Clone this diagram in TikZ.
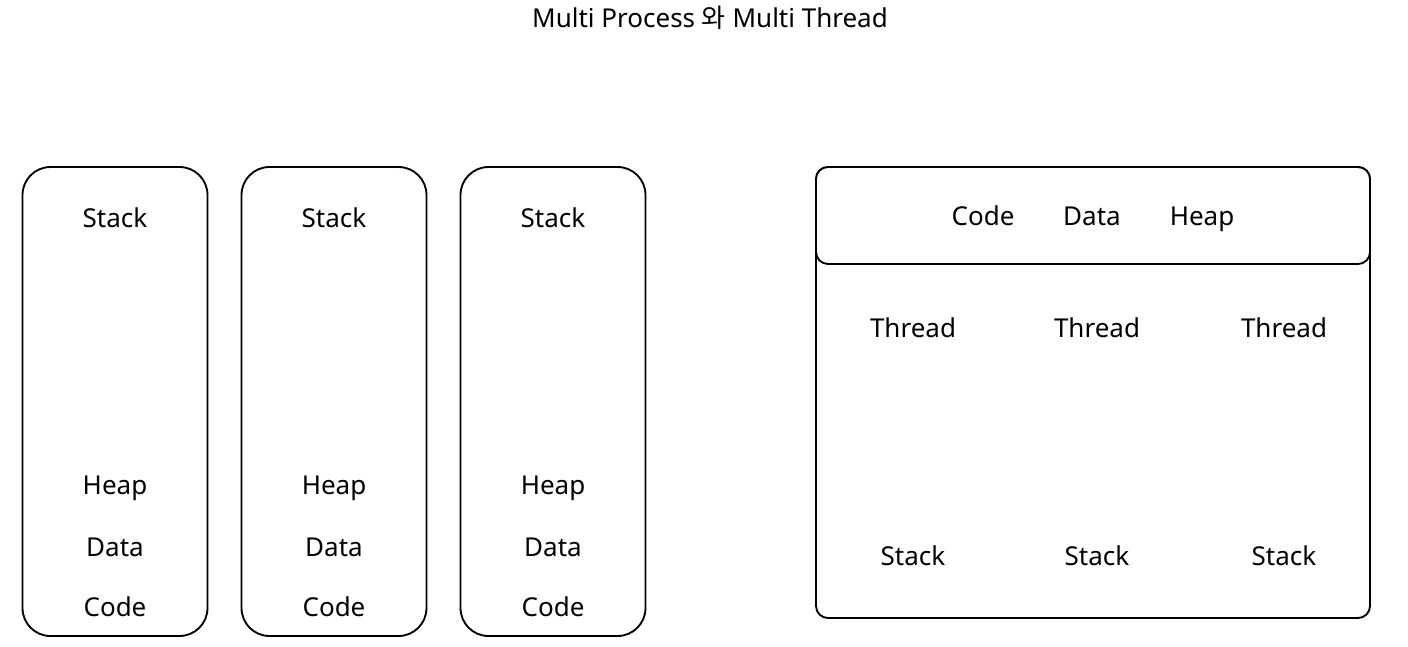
\documentclass[tikz,border=0pt]{standalone}
\usepackage{fontspec}
\setmainfont{Noto Sans}
\newfontfamily\krfont{Noto Sans CJK KR}
\begin{document}
\begin{tikzpicture}[x=0.75pt,y=-0.75pt,
  lbl/.style={inner sep=0pt, anchor=base, font=\fontsize{19.5}{23}\selectfont},
  procbox/.style={draw, line width=1.4pt, rounded corners=21pt},
  sharedbox/.style={draw, line width=1.4pt, rounded corners=9pt}]
\useasboundingbox (0,0) rectangle (1408,646);

% title
\node[lbl] (title) at (710,27) {Multi Process {\krfont 와} Multi Thread};

% three separate processes
\foreach \i/\cx in {1/115, 2/334, 3/553} {
  \draw[procbox] (\cx-92.5,167) rectangle (\cx+92.5,636);
  \node[lbl] (stack\i) at (\cx,227) {Stack};
  \node[lbl] (heap\i)  at (\cx,494) {Heap};
  \node[lbl] (data\i)  at (\cx,556) {Data};
  \node[lbl] (code\i)  at (\cx,616) {Code};
}

% one process with several threads
\draw[sharedbox] (816,167) rectangle (1370,618);
\draw[sharedbox, fill=white] (816,167) rectangle (1370,264);
\node[lbl] (scode) at (983,225) {Code};
\node[lbl] (sdata) at (1092,225) {Data};
\node[lbl] (sheap) at (1202,225) {Heap};

\foreach \j/\cx in {1/913, 2/1097, 3/1284} {
  \node[lbl] (thread\j) at (\cx,337) {Thread};
  \node[lbl] (tstack\j) at (\cx,565) {Stack};
}
\end{tikzpicture}
\end{document}
